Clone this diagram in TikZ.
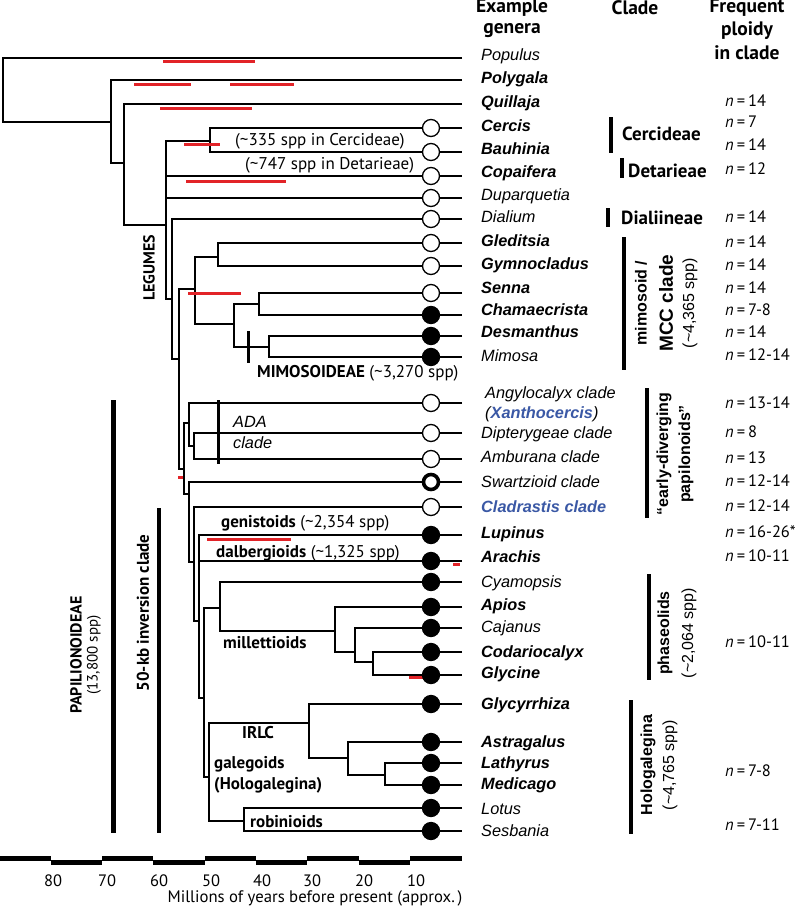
\documentclass[tikz,border=0pt]{standalone}
\usepackage{fontspec}
\setmainfont{Liberation Sans}
\newfontfamily\myr{PT Sans}
\usetikzlibrary{calc}
\definecolor{redbar}{RGB}{226,35,40}
\definecolor{bluegen}{RGB}{58,88,165}
\newcommand\gsz{\fontsize{16.3}{18}\selectfont}
\newcommand\msz{\fontsize{17}{19}\selectfont}
\newcommand\twokids[3]{\draw[br] (#2) -- (#1 |- #2) -- (#1 |- #3) -- (#3);}
\newcommand\midkid[2]{\draw[br] (#1 |- #2) -- (#2);}
\begin{document}
\begin{tikzpicture}[x=1pt,y=-1pt,
  br/.style={line width=1.3pt,black,line join=miter},
  rb/.style={line width=3pt,redbar},
  oc/.style={circle,draw,line width=1.3pt,fill=white,minimum size=17pt,inner sep=0pt},
  fc/.style={circle,draw,line width=1.3pt,fill=black,minimum size=17pt,inner sep=0pt},
  tc/.style={circle,draw,line width=3.6pt,fill=white,minimum size=15pt,inner sep=0pt},
  gen/.style={anchor=west,inner sep=0pt,font=\gsz\itshape,text height=11pt,text depth=3pt},
  bgen/.style={gen,font=\gsz\bfseries\itshape},
  pl/.style={anchor=west,inner sep=0pt,font=\myr\fontsize{16.5}{18}\selectfont,text height=11pt,text depth=3pt},
  ann/.style={anchor=west,inner sep=0pt,font=\myr\msz},
  hdr/.style={inner sep=0pt,font=\myr\fontsize{19.5}{21}\selectfont\bfseries},
  clab/.style={anchor=west,inner sep=0pt,font=\myr\fontsize{19}{21}\selectfont\bfseries},
  cbar/.style={line width=4pt,black},
  ax/.style={line width=5pt,black}]
\useasboundingbox (0,0) rectangle (799,907);
% ---- tips
\foreach \n/\y in {Pop/58,Pol/80,Qui/104,Cer/128,Bau/152,Cop/176,Dup/198,Dia/219,
  Gle/243,Gym/266,Sen/293,Cha/315,Des/336,Mim/357,Ang/403,Dip/433,Amb/459,Swa/482,
  Cla/507,Lup/535,Ara/561,Cya/582,Api/607,Caj/628,Cod/652,Gly/675,Glz/704,Ast/742,
  Lat/763,Med/785,Lot/808,Ses/831}
  {\coordinate (t\n) at (462,\y);}
% ---- internal nodes
\coordinate (root) at (3,90);
\coordinate (nA) at (111,122);
\coordinate (nB) at (124,163);
\coordinate (nC) at (166,225);
\coordinate (nCerc) at (210,141);
\coordinate (nD) at (172,299);
\coordinate (nE) at (179,359);
\coordinate (nMCC) at (195,289);
\coordinate (nGG) at (218,257);
\coordinate (nCM) at (234,324);
\coordinate (nSC) at (259,304);
\coordinate (nMim) at (269,347);
\coordinate (nPap) at (184,469);
\coordinate (nADA) at (189,423);
\coordinate (nDA) at (194,446);
\coordinate (nF) at (189,494);
\coordinate (nG) at (194,562);
\coordinate (nH) at (199,621);
\coordinate (nI) at (204,698);
\coordinate (nMil) at (220,608);
\coordinate (nK) at (335,631);
\coordinate (nL) at (355,652);
\coordinate (nM) at (373,662);
\coordinate (nJ) at (209,777);
\coordinate (nIRLC) at (309,723);
\coordinate (nN) at (348,758);
\coordinate (nO) at (385,775);
\coordinate (nRob) at (244,821);
% ---- branches
\twokids{root}{tPop}{nA}
\twokids{nA}{tPol}{nB}
\twokids{nB}{tQui}{nC}
\twokids{nC}{nCerc}{nD}
\midkid{nC}{tCop}\midkid{nC}{tDup}
\twokids{nCerc}{tCer}{tBau}
\twokids{nD}{tDia}{nE}
\twokids{nE}{nMCC}{nPap}
\twokids{nMCC}{nGG}{nCM}
\twokids{nGG}{tGle}{tGym}
\twokids{nCM}{nSC}{nMim}
\twokids{nSC}{tSen}{tCha}
\twokids{nMim}{tDes}{tMim}
\twokids{nPap}{nADA}{nF}
\twokids{nADA}{tAng}{nDA}
\twokids{nDA}{tDip}{tAmb}
\twokids{nF}{tSwa}{nG}
\twokids{nG}{tCla}{nH}
\twokids{nH}{tLup}{nI}
\midkid{nH}{tAra}
\twokids{nI}{nMil}{nJ}
\twokids{nMil}{tCya}{nK}
\twokids{nK}{tApi}{nL}
\twokids{nL}{tCaj}{nM}
\twokids{nM}{tCod}{tGly}
\twokids{nJ}{nIRLC}{nRob}
\twokids{nIRLC}{tGlz}{nN}
\twokids{nN}{tAst}{nO}
\twokids{nO}{tLat}{tMed}
\twokids{nRob}{tLot}{tSes}
% ---- red bars
\draw[rb] (163,62) -- (255,62);
\draw[rb] (134,84) -- (191,84);
\draw[rb] (230,84) -- (294,84);
\draw[rb] (160,108) -- (252,108);
\draw[rb] (184,144) -- (220,144);
\draw[rb] (186,181) -- (286,181);
\draw[rb] (188,293) -- (241,293);
\draw[rb] (178,477) -- (183,477);
\draw[rb] (207,539) -- (291,539);
\draw[rb] (453,564) -- (460,564);
\draw[rb] (409,677) -- (435,677);
% ---- circles
\foreach \n in {Cer,Bau,Cop,Dup,Dia,Gle,Gym,Sen,Ang,Dip,Amb,Cla}
  {\node[oc] (c\n) at ([xshift=-31pt]t\n) {};}
\node[tc] (cSwa) at ([xshift=-31pt]tSwa) {};
\foreach \n in {Cha,Des,Mim,Lup,Ara,Cya,Api,Caj,Cod,Gly,Glz,Ast,Lat,Med,Lot,Ses}
  {\node[fc] (c\n) at ([xshift=-31pt]t\n) {};}
% ---- ticks
\draw[line width=3pt] (248,331) -- (248,363);
\draw[line width=3pt] (218,400) -- (218,464);
% ---- genera
\node[gen]  (gPop) at (481,57) {Populus};
\node[bgen] (gPol) at (481,80) {Polygala};
\node[bgen] (gQui) at (481,103) {Quillaja};
\node[bgen] (gCer) at (481,127) {Cercis};
\node[bgen] (gBau) at (481,150) {Bauhinia};
\node[bgen] (gCop) at (481,173) {Copaifera};
\node[gen]  (gDup) at (481,196) {Duparquetia};
\node[gen]  (gDia) at (481,218) {Dialium};
\node[bgen] (gGle) at (481,242) {Gleditsia};
\node[bgen] (gGym) at (481,265) {Gymnocladus};
\node[bgen] (gSen) at (481,289) {Senna};
\node[bgen] (gCha) at (481,311) {Chamaecrista};
\node[bgen] (gDes) at (481,333) {Desmanthus};
\node[gen]  (gMim) at (481,357) {Mimosa};
\node[gen]  (gAng) at (485,394) {Angylocalyx clade};
\node[gen]  (gXan) at (485,414) {(\textcolor{bluegen}{\bfseries Xanthocercis})};
\node[gen]  (gDip) at (481,434) {Dipterygeae clade};
\node[gen]  (gAmb) at (481,458) {Amburana clade};
\node[gen]  (gSwa) at (481,483) {Swartzioid clade};
\node[bgen,text=bluegen] (gCla) at (481,508) {Cladrastis clade};
\node[bgen] (gLup) at (481,534) {Lupinus};
\node[bgen] (gAra) at (481,558) {Arachis};
\node[gen]  (gCya) at (481,583) {Cyamopsis};
\node[bgen] (gApi) at (481,606) {Apios};
\node[gen]  (gCaj) at (481,628) {Cajanus};
\node[bgen] (gCod) at (481,653) {Codariocalyx};
\node[bgen] (gGly) at (481,674) {Glycine};
\node[bgen] (gGlz) at (481,705) {Glycyrrhiza};
\node[bgen] (gAst) at (481,743) {Astragalus};
\node[bgen] (gLat) at (481,764) {Lathyrus};
\node[bgen] (gMed) at (481,785) {Medicago};
\node[gen]  (gLot) at (481,810) {Lotus};
\node[gen]  (gSes) at (481,832) {Sesbania};
% ---- headers
\node[hdr] (h1) at (512,8) {Example};
\node[hdr] (h2) at (512,31) {genera};
\node[hdr] (h3) at (635,8) {Clade};
\node[hdr] (h4) at (747,8) {Frequent};
\node[hdr] (h5) at (747,31) {ploidy};
\node[hdr] (h6) at (747,53) {in clade};
% ---- ploidy
\foreach \y/\v in {102/14,123/7,146/14,170/12,218/14,243/14,266/14,289/14,311/7-8,333/14,
  356/12-14,404/13-14,433/8,459/13,482/12-14,507/12-14,533/16-26*,557/10-11,643/10-11,
  772/7-8,826/7-11}
  {\node[pl] at (725,\y) {\textit{n}\hspace{0.18em}=\hspace{0.18em}\v};}
% ---- clade column
\draw[cbar] (611,117) -- (611,153);
\node[clab] (lCer) at (622,134) {Cercideae};
\draw[cbar] (622,158) -- (622,178);
\node[clab] (lDet) at (628,171) {Detarieae};
\draw[cbar] (608,208) -- (608,227);
\node[clab] (lDia) at (621,218) {Dialiineae};
\draw[cbar] (624,237) -- (624,370);
\node[rotate=90,font=\fontsize{16}{18}\selectfont\bfseries,inner sep=0pt] (lMCC1) at (641,303) {mimosoid /};
\node[rotate=90,font=\fontsize{19}{21}\selectfont\bfseries,inner sep=0pt] (lMCC2) at (666,303) {MCC clade};
\node[rotate=90,font=\fontsize{16}{18}\selectfont,inner sep=0pt] (lMCC3) at (690,303) {(\textasciitilde 4,365 spp)};
\draw[cbar] (647,388) -- (647,518);
\node[rotate=90,font=\fontsize{16}{18}\selectfont\bfseries,inner sep=0pt] (lEar1) at (664,454) {“early-diverging};
\node[rotate=90,font=\fontsize{16}{18}\selectfont\bfseries,inner sep=0pt] (lEar2) at (686,454) {papilonoids”};
\draw[cbar] (649,574) -- (649,680);
\node[rotate=90,font=\fontsize{16}{18}\selectfont\bfseries,inner sep=0pt] (lPha1) at (665,633) {phaseolids};
\node[rotate=90,font=\fontsize{16}{18}\selectfont,inner sep=0pt] (lPha2) at (689,633) {(\textasciitilde 2,064 spp)};
\draw[cbar] (631,700) -- (631,834);
\node[rotate=90,font=\fontsize{16}{18}\selectfont\bfseries,inner sep=0pt] (lHol1) at (648,765) {Hologalegina};
\node[rotate=90,font=\fontsize{16}{18}\selectfont,inner sep=0pt] (lHol2) at (670,765) {(\textasciitilde 4,765 spp)};
% ---- annotations on tree
\node[ann] (aCer) at (235,141) {(\textasciitilde 335 spp in Cercideae)};
\node[ann] (aDet) at (245,165) {(\textasciitilde 747 spp in Detarieae)};
\node[ann] (aMim) at (257,373) {\bfseries MIMOSOIDEAE\mdseries{} (\textasciitilde 3,270 spp)};
\node[ann] (aGen) at (221,523) {\bfseries genistoids\mdseries{} (\textasciitilde 2,354 spp)};
\node[ann] (aDal) at (216,553) {\bfseries dalbergioids\mdseries{} (\textasciitilde 1,325 spp)};
\node[ann,font=\myr\msz\bfseries] (aMil) at (223,643) {millettioids};
\node[ann,font=\myr\msz\bfseries] (aIRLC) at (242,733) {IRLC};
\node[ann,font=\myr\msz\bfseries] (aGal1) at (214,764) {galegoids};
\node[ann,font=\myr\msz\bfseries] (aGal2) at (214,785) {(Hologalegina)};
\node[ann,font=\myr\msz\bfseries] (aRob) at (250,822) {robinioids};
\node[ann,font=\gsz\itshape] (aADA1) at (233,422) {ADA};
\node[ann,font=\gsz\itshape] (aADA2) at (233,443) {clade};
\node[rotate=90,font=\myr\fontsize{16}{18}\selectfont\bfseries,inner sep=0pt] (aLeg) at (149,268) {LEGUMES};
% ---- clade bars left
\draw[line width=5pt] (113,400) -- (113,833);
\draw[line width=4pt] (159,508) -- (159,833);
\node[rotate=90,font=\myr\fontsize{16}{18}\selectfont\bfseries,inner sep=0pt] (aPap1) at (76,655) {PAPILIONOIDEAE};
\node[rotate=90,font=\myr\fontsize{15}{17}\selectfont,inner sep=0pt] (aPap2) at (94,655) {(13,800 spp)};
\node[rotate=90,font=\myr\fontsize{17}{19}\selectfont\bfseries,inner sep=0pt] (a50) at (143,613) {50-kb inversion clade};
% ---- axis
\foreach \i/\x in {0/0,1/51,2/102,3/153,4/205,5/256,6/307,7/359,8/410,9/462}
  {\coordinate (ax\i) at (\x,860);}
\foreach \a/\b in {0/1,2/3,4/5,6/7,8/9}
  {\draw[ax] ([yshift=2pt]ax\a) -- ([yshift=2pt]ax\b);}
\foreach \a/\b in {1/2,3/4,5/6,7/8}
  {\draw[ax] ([yshift=-2pt]ax\a) -- ([yshift=-2pt]ax\b);}
\foreach \x/\l in {53/80,107/70,159/60,211/50,262/40,312/30,364/20,416/10}
  {\node[font=\myr\fontsize{16.5}{18}\selectfont,inner sep=0pt] at (\x,881) {\l};}
\node[font=\myr\fontsize{16.7}{18}\selectfont,inner sep=0pt] (axl) at (315,898) {Millions of years before present (approx.\,)};
\end{tikzpicture}
\end{document}
